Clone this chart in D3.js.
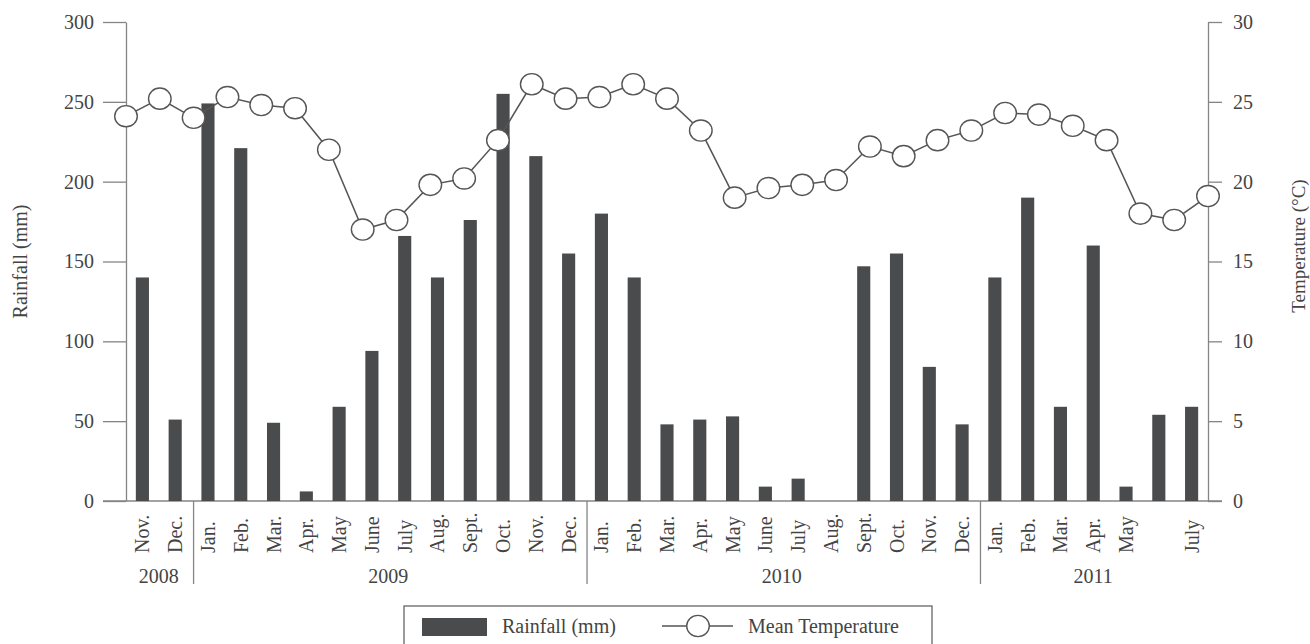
<!DOCTYPE html>
<html>
<head>
<meta charset="utf-8">
<script src="https://cdn.jsdelivr.net/npm/d3@7"></script>
<style>
  html, body { margin: 0; padding: 0; background: #fff; }
  svg { display: block; font-family: "Liberation Serif", "Times New Roman", serif; }
  .axis text { fill: #444; font-size: 20px; font-family: "Liberation Serif", serif; }
  .axis line, .axis path { stroke: #858585; stroke-width: 1.3; }
</style>
</head>
<body>
<div id="chart"></div>
<script>
// monthly data, Nov 2008 .. July 2011
const months = ["Nov.", "Dec.",
  "Jan.", "Feb.", "Mar.", "Apr.", "May", "June", "July", "Aug.", "Sept.", "Oct.", "Nov.", "Dec.",
  "Jan.", "Feb.", "Mar.", "Apr.", "May", "June", "July", "Aug.", "Sept.", "Oct.", "Nov.", "Dec.",
  "Jan.", "Feb.", "Mar.", "Apr.", "May", "", "July"];
const monthYear = [2008, 2008,
  2009, 2009, 2009, 2009, 2009, 2009, 2009, 2009, 2009, 2009, 2009, 2009,
  2010, 2010, 2010, 2010, 2010, 2010, 2010, 2010, 2010, 2010, 2010, 2010,
  2011, 2011, 2011, 2011, 2011, 2011, 2011];
const years = [2008, 2009, 2010, 2011];

const rainfall = [140, 51,
  249, 221, 49, 6, 59, 94, 166, 140, 176, 255, 216, 155,
  180, 140, 48, 51, 53, 9, 14, 0, 147, 155, 84, 48,
  140, 190, 59, 160, 9, 54, 59];

const temperature = [24.1, 25.2,
  24.0, 25.3, 24.8, 24.6, 22.0, 17.0, 17.6, 19.8, 20.2, 22.6, 26.1, 25.2,
  25.3, 26.1, 25.2, 23.2, 19.0, 19.6, 19.8, 20.1, 22.2, 21.6, 22.6, 23.2,
  24.3, 24.2, 23.5, 22.6, 18.0, 17.6, 19.1];

const rainTicks = [0, 50, 100, 150, 200, 250, 300];
const tempTicks = [0, 5, 10, 15, 20, 25, 30];

const W = 1310, H = 644;
const x0 = 126, x1 = 1208, yTop = 22, yBase = 501;
const ink = "#444", barColor = "#4a4b4d", lineColor = "#555";

const svg = d3.select("#chart").append("svg")
  .attr("width", W).attr("height", H);

const idx = d3.range(months.length);

// bars sit in bands, the temperature points span the full axis width
const xb = d3.scaleBand().domain(idx).range([x0, x1])
  .paddingInner(0.6).paddingOuter(0.3);
const xp = d3.scalePoint().domain(idx).range([x0, x1]);

const yR = d3.scaleLinear().domain([0, 300]).range([yBase, yTop]);
const yT = d3.scaleLinear().domain([0, 30]).range([yBase, yTop]);

// axes
svg.append("g").attr("class", "axis")
  .attr("transform", `translate(${x0},0)`)
  .call(d3.axisLeft(yR).tickValues(rainTicks).tickSize(23).tickSizeOuter(0).tickPadding(9));

svg.append("g").attr("class", "axis")
  .attr("transform", `translate(${x1},0)`)
  .call(d3.axisRight(yT).tickValues(tempTicks).tickSize(14).tickSizeOuter(0).tickPadding(11));

// baseline
svg.append("line")
  .attr("x1", x0 - 23).attr("x2", x1 + 14)
  .attr("y1", yBase).attr("y2", yBase)
  .attr("stroke", "#858585").attr("stroke-width", 1.3);

// bars
svg.selectAll("rect.bar")
  .data(idx)
  .join("rect")
  .attr("class", "bar")
  .attr("x", i => xb(i))
  .attr("width", xb.bandwidth())
  .attr("y", i => yR(rainfall[i]))
  .attr("height", i => yBase - yR(rainfall[i]))
  .attr("fill", barColor);

// temperature line + markers
svg.append("path")
  .datum(idx)
  .attr("fill", "none")
  .attr("stroke", lineColor)
  .attr("stroke-width", 1.5)
  .attr("d", d3.line().x(i => xp(i)).y(i => yT(temperature[i])));

svg.selectAll("ellipse.pt")
  .data(idx)
  .join("ellipse")
  .attr("class", "pt")
  .attr("cx", i => xp(i))
  .attr("cy", i => yT(temperature[i]))
  .attr("rx", 11.3).attr("ry", 10.6)
  .attr("fill", "#fff")
  .attr("stroke", lineColor)
  .attr("stroke-width", 1.4);

// month labels
const cx = i => xb(i) + xb.bandwidth() / 2;
svg.selectAll("text.month")
  .data(idx)
  .join("text")
  .attr("class", "month")
  .attr("transform", i => `translate(${cx(i) + 7},553) rotate(-90)`)
  .attr("text-anchor", "start")
  .attr("fill", ink)
  .style("font-size", "20px")
  .text(i => months[i]);

// year groups
years.forEach((yr, k) => {
  const members = idx.filter(i => monthYear[i] === yr);
  const first = members[0], last = members[members.length - 1];
  svg.append("text")
    .attr("x", (cx(first) + cx(last)) / 2)
    .attr("y", 583)
    .attr("text-anchor", "middle")
    .attr("fill", ink)
    .style("font-size", "20px")
    .text(yr);
  if (k > 0) {
    const sx = (cx(first - 1) + cx(first)) / 2 + 2;
    svg.append("line")
      .attr("x1", sx).attr("x2", sx)
      .attr("y1", yBase).attr("y2", 584)
      .attr("stroke", "#858585").attr("stroke-width", 1.3);
  }
});

// axis titles
svg.append("text")
  .attr("transform", `translate(27,${(yTop + yBase) / 2}) rotate(-90)`)
  .attr("text-anchor", "middle")
  .attr("fill", ink)
  .style("font-size", "20px")
  .text("Rainfall (mm)");

svg.append("text")
  .attr("transform", `translate(1305,246) rotate(-90)`)
  .attr("text-anchor", "middle")
  .attr("fill", ink)
  .style("font-size", "19px")
  .text("Temperature (°C)");

// legend
const lg = svg.append("g");
lg.append("rect")
  .attr("x", 404).attr("y", 606).attr("width", 528).attr("height", 60)
  .attr("fill", "none").attr("stroke", "#666").attr("stroke-width", 1.3);
lg.append("rect")
  .attr("x", 422).attr("y", 618).attr("width", 65).attr("height", 18)
  .attr("fill", barColor);
lg.append("text")
  .attr("x", 502).attr("y", 633)
  .attr("fill", ink).style("font-size", "20px")
  .text("Rainfall (mm)");
lg.append("line")
  .attr("x1", 662).attr("x2", 733).attr("y1", 626).attr("y2", 626)
  .attr("stroke", lineColor).attr("stroke-width", 1.5);
lg.append("ellipse")
  .attr("cx", 698).attr("cy", 626).attr("rx", 11.3).attr("ry", 10.6)
  .attr("fill", "#fff").attr("stroke", lineColor).attr("stroke-width", 1.4);
lg.append("text")
  .attr("x", 748).attr("y", 633)
  .attr("fill", ink).style("font-size", "20px")
  .text("Mean Temperature");
</script>
</body>
</html>
